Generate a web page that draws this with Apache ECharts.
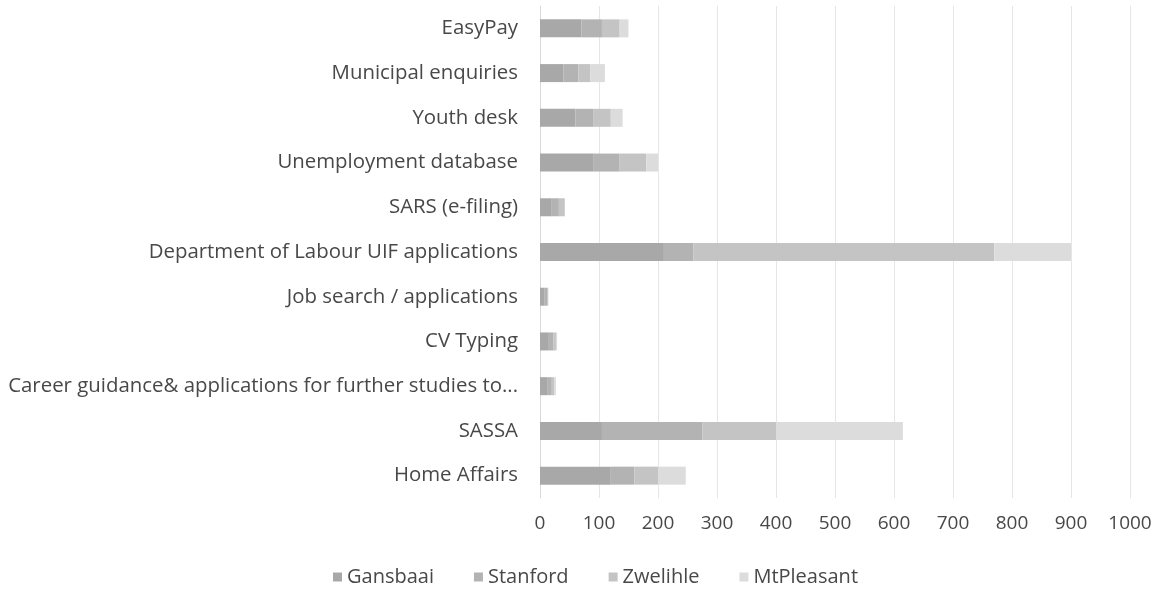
<!DOCTYPE html>
<html>
<head>
<meta charset="utf-8">
<script src="https://cdn.jsdelivr.net/npm/echarts@6/dist/echarts.min.js"></script>
<style>
  html, body { margin: 0; padding: 0; background: #fff; }
  #main { width: 1163px; height: 596px; }
</style>
</head>
<body>
<div id="main"></div>
<script>
// categories, top to bottom
var categories = [
  "EasyPay",
  "Municipal enquiries",
  "Youth desk",
  "Unemployment database",
  "SARS (e-filing)",
  "Department of Labour UIF applications",
  "Job search / applications",
  "CV Typing",
  "Career guidance& applications for further studies to...",
  "SASSA",
  "Home Affairs"
];
var seriesNames = ["Gansbaai", "Stanford", "Zwelihle", "MtPleasant"];
var gansbaai   = [70, 40, 60, 90, 20, 210, 8, 15, 12, 105, 120];
var stanford   = [35, 25, 30, 45, 12, 50, 4, 8, 8, 170, 40];
var zwelihle   = [30, 20, 30, 45, 10, 510, 2, 4, 4, 125, 40];
var mtPleasant = [15, 25, 20, 20, 0, 130, 0, 2, 3, 215, 47];
var xTicks = [0, 100, 200, 300, 400, 500, 600, 700, 800, 900, 1000];

var colors = ["#a8a8a8", "#b3b3b3", "#c4c4c4", "#dcdcdc"];
var values = [gansbaai, stanford, zwelihle, mtPleasant];

var myChart = echarts.init(document.getElementById("main"));

var series = seriesNames.map(function (name, i) {
  return {
    name: name,
    type: "bar",
    stack: "total",
    barWidth: 18,
    itemStyle: { color: colors[i] },
    data: values[i]
  };
});

var option = {
  animation: false,
  textStyle: { fontFamily: "Open Sans" },
  grid: { left: 540, right: 33, top: 6, bottom: 98 },
  legend: {
    bottom: 4,
    left: 328,
    itemWidth: 9,
    itemHeight: 9,
    itemGap: 40,
    icon: "rect",
    textStyle: { fontSize: 20, color: "#484848", fontFamily: "Open Sans" },
    data: seriesNames
  },
  xAxis: {
    type: "value",
    min: xTicks[0],
    max: xTicks[xTicks.length - 1],
    interval: 100,
    axisLine: { show: false },
    axisTick: { show: false },
    axisLabel: {
      fontSize: 19,
      color: "#484848",
      margin: 16,
      formatter: function (v) { return String(v); }
    },
    splitLine: { lineStyle: { color: "#e6e6e6" } }
  },
  yAxis: {
    type: "category",
    inverse: true,
    data: categories,
    axisLine: { lineStyle: { color: "#d9d9d9" } },
    axisTick: { show: false },
    axisLabel: { fontSize: 20.4, color: "#484848", margin: 22 }
  },
  series: series
};

myChart.setOption(option);
</script>
</body>
</html>
